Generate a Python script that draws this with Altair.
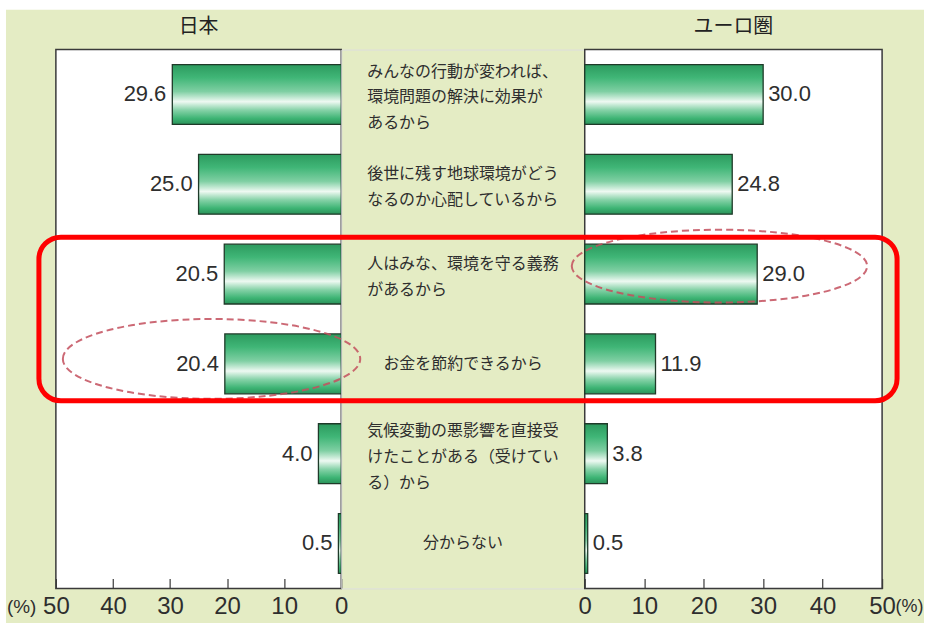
import altair as alt
import pandas as pd

# ---------------- data ----------------
categories = [
    "みんなの行動が変われば、\n環境問題の解決に効果が\nあるから",
    "後世に残す地球環境がどう\nなるのか心配しているから",
    "人はみな、環境を守る義務\nがあるから",
    "お金を節約できるから",
    "気候変動の悪影響を直接受\nけたことがある（受けてい\nる）から",
    "分からない",
]
japan = [29.6, 25.0, 20.5, 20.4, 4.0, 0.5]
euro = [30.0, 24.8, 29.0, 11.9, 3.8, 0.5]
x_ticks = [0, 10, 20, 30, 40, 50]
panel_titles = ["日本", "ユーロ圏"]
unit_label = "(%)"

df = pd.DataFrame({
    "cat": categories,
    "japan": japan,
    "euro": euro,
    "nlines": [c.count("\n") + 1 for c in categories],
})
one = pd.DataFrame({"k": [0]})

# ---------------- styling ----------------
H = 540
WL, WM, WR = 286, 244, 298
NUM_FONT = "Liberation Sans Narrow, Arial Narrow, Liberation Sans, Arial, sans-serif"
JP_FONT = "Noto Sans CJK JP"
BG = "#e4ecc4"
TXT = "#2e2e2e"
EDGE = "#3a3a3a"
LH = 26

grad = alt.Gradient(
    gradient="linear",
    x1=0, x2=0, y1=0, y2=1,
    stops=[
        alt.GradientStop(color="#2c9a5e", offset=0),
        alt.GradientStop(color="#40b677", offset=0.22),
        alt.GradientStop(color="#7fcfa3", offset=0.45),
        alt.GradientStop(color="#eef9f2", offset=0.62),
        alt.GradientStop(color="#86d2a8", offset=0.76),
        alt.GradientStop(color="#3db474", offset=0.9),
        alt.GradientStop(color="#2a9159", offset=1),
    ],
)

yscale = alt.Scale(paddingInner=1 / 3, paddingOuter=1 / 6)


def y_enc(orient=None):
    if orient is None:
        return alt.Y("cat:N", sort=categories, scale=yscale, axis=None)
    return alt.Y(
        "cat:N", sort=categories, scale=yscale, title=None,
        axis=alt.Axis(orient=orient, labels=False, domain=False, grid=False,
                      ticks=True, tickBand="extent", tickSize=6, offset=-6,
                      tickColor=EDGE, tickWidth=1.2, zindex=1),
    )


def x_axis(title_x, title_align, title_size):
    return alt.Axis(
        values=x_ticks, orient="bottom", domain=False, grid=False,
        tickSize=10, offset=-10, tickColor=EDGE, tickWidth=1.2,
        labelPadding=6, labelFont=NUM_FONT, labelFontSize=24, labelColor=TXT,
        labelFlush=False, labelOverlap=False, zindex=1,
        title=unit_label, titleX=title_x, titleY=28, titleAlign=title_align,
        titleBaseline="middle", titleFont=NUM_FONT, titleFontSize=title_size,
        titleFontWeight="normal", titleColor=TXT,
    )


def title_mark(t, w):
    return alt.Chart(one).mark_text(
        font=JP_FONT, fontSize=20, color="#222222", align="center", baseline="middle"
    ).encode(x=alt.value(w / 2), y=alt.value(-23), text=alt.value(t))


# ---------------- left panel (Japan) ----------------
green_bg = alt.Chart(one).mark_rect(fill=BG).encode(
    x=alt.value(-50), x2=alt.value(870), y=alt.value(-40), y2=alt.value(575))
left_plot_bg = alt.Chart(one).mark_rect(fill="white", stroke=EDGE, strokeWidth=1.5).encode(
    x=alt.value(0), x2=alt.value(WL), y=alt.value(0), y2=alt.value(H))

xl = alt.X("japan:Q", scale=alt.Scale(domain=[0, 50], reverse=True),
           axis=x_axis(-20, "right", 19))
left_bars = alt.Chart(df).mark_bar(fill=grad, stroke="#1f3a29", strokeWidth=1.3).encode(
    x=xl, y=y_enc("right"))
left_labels = alt.Chart(df).mark_text(
    align="right", baseline="middle", dx=-6, font=NUM_FONT, fontSize=22, color=TXT
).encode(x=alt.X("japan:Q"), y=y_enc(), text=alt.Text("japan:Q", format=".1f"))

left = alt.layer(green_bg, left_plot_bg, left_bars, left_labels,
                 title_mark(panel_titles[0], WL)).properties(width=WL, height=H)

# ---------------- middle labels ----------------
mid_three = alt.Chart(df).transform_filter("datum.nlines == 3").mark_text(
    align="left", baseline="middle", lineBreak="\n", lineHeight=LH,
    font=JP_FONT, fontSize=16, color=TXT, dy=-23,
).encode(x=alt.value(26), y=y_enc(), text="cat:N")
mid_two = alt.Chart(df).transform_filter("datum.nlines == 2").mark_text(
    align="left", baseline="middle", lineBreak="\n", lineHeight=LH,
    font=JP_FONT, fontSize=16, color=TXT, dy=-10,
).encode(x=alt.value(26), y=y_enc(), text="cat:N")
mid_single = alt.Chart(df).transform_filter("datum.nlines == 1").mark_text(
    align="center", baseline="middle", font=JP_FONT, fontSize=16, color=TXT,
).encode(x=alt.value(WM / 2), y=y_enc(), text="cat:N")
middle = alt.layer(mid_three, mid_two, mid_single).properties(width=WM, height=H)

# ---------------- right panel (Euro area) ----------------
right_plot_bg = alt.Chart(one).mark_rect(fill="white", stroke=EDGE, strokeWidth=1.5).encode(
    x=alt.value(0), x2=alt.value(WR), y=alt.value(0), y2=alt.value(H))
xr = alt.X("euro:Q", scale=alt.Scale(domain=[0, 50]), axis=x_axis(WR + 13, "left", 18))
right_bars = alt.Chart(df).mark_bar(fill=grad, stroke="#1f3a29", strokeWidth=1.3).encode(
    x=xr, y=y_enc("left"))
right_labels = alt.Chart(df).mark_text(
    align="left", baseline="middle", dx=5, font=NUM_FONT, fontSize=22, color=TXT
).encode(x=alt.X("euro:Q"), y=y_enc(), text=alt.Text("euro:Q", format=".1f"))

# annotations (highlight box and dashed ellipses)
red_box = alt.Chart(one).mark_rect(
    fill="white", fillOpacity=0, stroke="#ff0000", strokeWidth=5, cornerRadius=22
).encode(x=alt.value(-547), x2=alt.value(313), y=alt.value(188), y2=alt.value(352))


def ellipse_path(ratio):
    return f"M-1,0A1,{ratio} 0 1,1 1,0A1,{ratio} 0 1,1 -1,0Z"


ell_right = alt.Chart(one).mark_point(
    shape=ellipse_path(36.5 / 148), size=(2 * 148) ** 2, filled=False,
    stroke="#c4505e", strokeWidth=2, strokeDash=[7, 4], opacity=0.85
).encode(x=alt.value(135), y=alt.value(217))
ell_left = alt.Chart(one).mark_point(
    shape=ellipse_path(40 / 149), size=(2 * 149) ** 2, filled=False,
    stroke="#c4505e", strokeWidth=2, strokeDash=[7, 4], opacity=0.85
).encode(x=alt.value(-374), y=alt.value(310))

right = alt.layer(right_plot_bg, right_bars, right_labels, title_mark(panel_titles[1], WR),
                  ell_right, ell_left, red_box).properties(width=WR, height=H)

chart = alt.hconcat(left, middle, right, spacing=0, bounds="flush").properties(
    padding={"left": 5, "top": 8, "right": 0, "bottom": 0}
).configure_view(strokeWidth=0, fill=BG).configure(background="white")

chart.save("out.html", embed_options={"renderer": "svg", "actions": False})
